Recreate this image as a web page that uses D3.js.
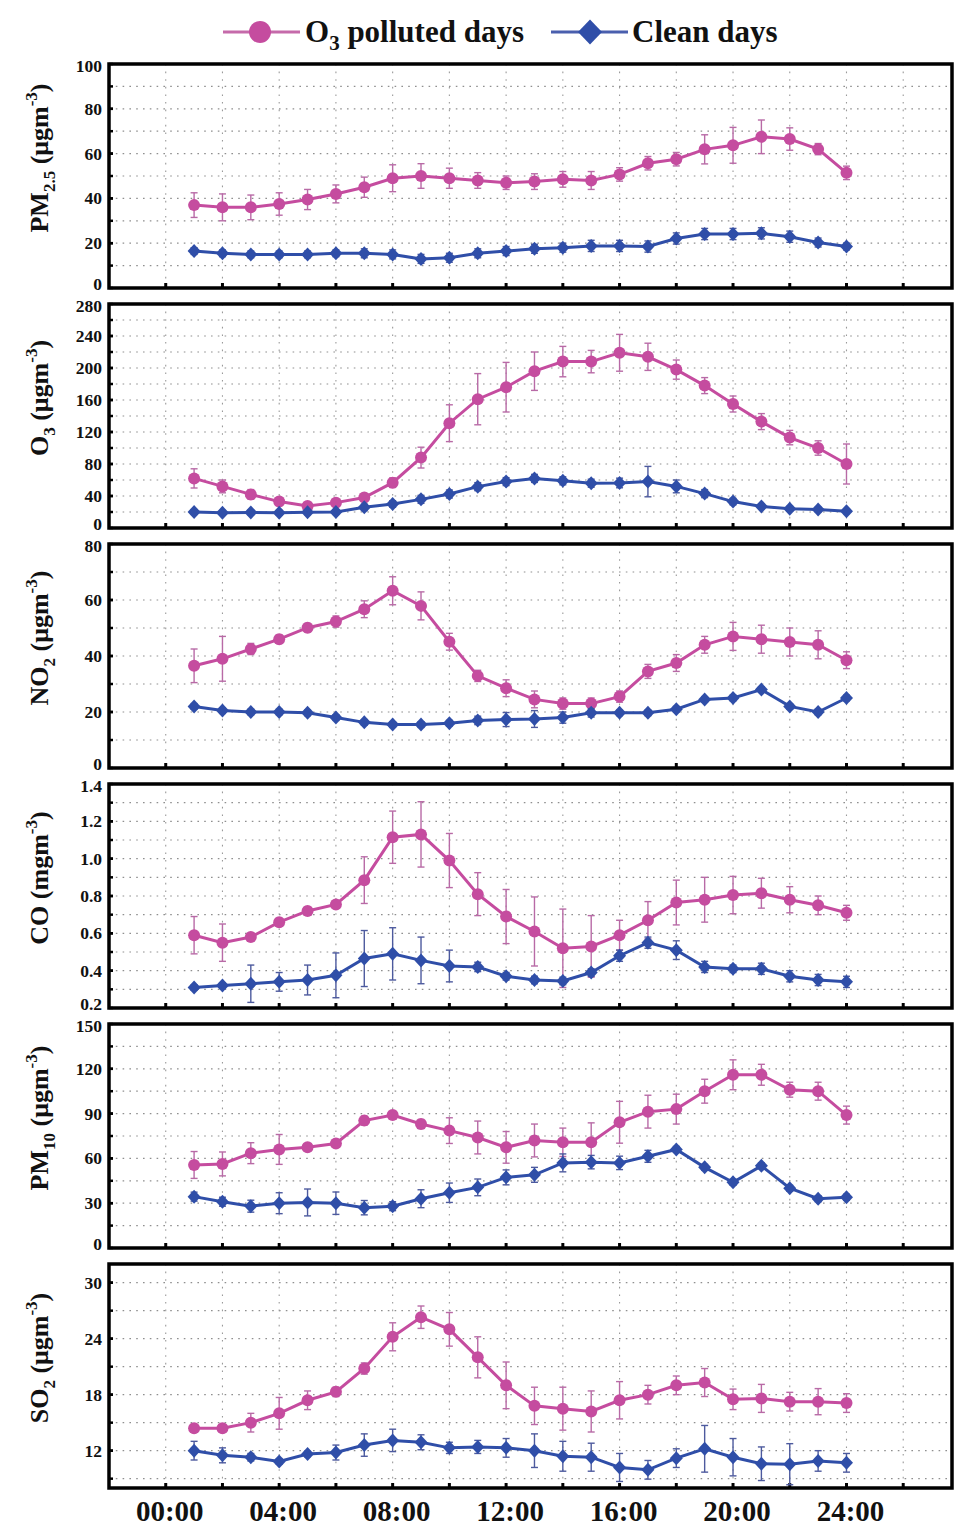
<!DOCTYPE html>
<html lang="en">
<head>
<meta charset="utf-8">
<title>Diurnal variations</title>
<script src="https://cdn.jsdelivr.net/npm/d3@7/dist/d3.min.js"></script>
<style>
  body { margin: 0; background: #fff; }
  svg { display: block; }
  text { font-family: "Liberation Serif", "Times New Roman", serif; font-weight: bold; fill: #111; }
</style>
</head>
<body>
<svg id="chart" width="954" height="1529"></svg>
<script>
// hours of day
var hours = [1,2,3,4,5,6,7,8,9,10,11,12,13,14,15,16,17,18,19,20,21,22,23,24];
var hourTicks = [0,4,8,12,16,20,24];
var hourTickLabels = ["00:00","04:00","08:00","12:00","16:00","20:00","24:00"];

// PM2.5 (ugm-3)
var pm25Polluted    = [37,36,36,37.5,39.5,42,45,49,50,49,48,47,47.5,48.5,48,50.7,55.7,57.5,61.9,63.7,67.5,66.5,62,51.4];
var pm25PollutedErr = [5.5,6,5.5,5,4.5,4,4.5,6,5.5,4.5,3.5,3,3.5,3.5,4,3,3,3,6.5,8,7.5,5,2.5,3];
var pm25Clean       = [16.5,15.5,15,15,15,15.5,15.5,15,13,13.5,15.5,16.5,17.5,18,18.8,18.8,18.5,22.1,24.1,24.1,24.4,22.9,20.3,18.5];
var pm25CleanErr    = [1.5,1.5,1.5,1.5,1.5,1.5,2,2,2,2,2,2,2,2,2.5,2.5,2.5,2.5,2.5,2.5,2.5,2.5,2,1.5];

// O3 (ugm-3)
var o3Polluted    = [62,52,42,33,27.5,31.7,38,56.7,88,131,161,176,196,208,208,219,214,198,178,155,133,113,100,80];
var o3PollutedErr = [12,8,6,5,4,4,5,6,13,23,32,31,24,19,14,23,17,12,10,10,10,9,9,25];
var o3Clean       = [20,19,19.5,19,19.6,20,25.8,30,35.8,42.5,51.7,58,62,59,56,56.3,58,52,43,33,27,24,23,21];
var o3CleanErr    = [3,3,3,3,3,3,4,4,5,5,5,5,5,5,5,6,19,8,5,4,3,3,3,3];

// NO2 (ugm-3)
var no2Polluted    = [36.5,39,42.5,46,50.1,52.3,56.7,63.3,57.9,45.1,32.9,28.5,24.5,23,23,25.5,34.5,37.5,44,47,46,45,44,38.5];
var no2PollutedErr = [6,8,2,1.5,1.5,2,3,5,5,3,2,3,3,2,2,2,2.5,3,3,5,5,5,5,3];
var no2Clean       = [22,20.5,20,20,19.7,18,16.3,15.5,15.5,16,17,17.3,17.5,18,19.7,19.7,19.7,21,24.5,25,28,22,20,25];
var no2CleanErr    = [1,1,1,1,1,1,1,1,1,1,1.5,2.5,3,2,1.5,1,1,1,1,1,1,1,1,1];

// CO (mgm-3)
var coPolluted    = [0.59,0.55,0.58,0.66,0.72,0.755,0.885,1.115,1.13,0.99,0.81,0.69,0.61,0.52,0.53,0.59,0.67,0.765,0.78,0.805,0.815,0.78,0.75,0.71];
var coPollutedErr = [0.1,0.1,0.02,0.02,0.02,0.02,0.125,0.14,0.175,0.145,0.115,0.145,0.185,0.21,0.165,0.08,0.1,0.12,0.12,0.1,0.08,0.07,0.05,0.04];
var coClean       = [0.31,0.32,0.33,0.34,0.35,0.375,0.465,0.49,0.455,0.425,0.42,0.37,0.35,0.345,0.39,0.48,0.55,0.51,0.42,0.41,0.41,0.37,0.35,0.34];
var coCleanErr    = [0.015,0.015,0.1,0.05,0.08,0.12,0.15,0.14,0.125,0.085,0.025,0.02,0.02,0.02,0.02,0.03,0.03,0.05,0.03,0.02,0.03,0.03,0.03,0.03];

// PM10 (ugm-3)
var pm10Polluted    = [55.6,56.3,63.5,66,67.5,70,85.3,89,83,78.6,74,67.4,72,70.8,70.8,84.2,91.3,93,105,116,116,106,105,89];
var pm10PollutedErr = [9,8,7,10,2,2,3,2,3,8.6,11,10.6,11,9.5,13,14,11,10,8,10,7,5,6,6];
var pm10Clean       = [34.4,31,28,30,30.5,30,27,28,33,37,40.6,47.3,49,57,57.5,57,61.4,66,54,44,55,40,33,34];
var pm10CleanErr    = [3,3,4,7,9,7.5,4.8,3,6,6.5,5.6,5,5,6,4.5,4.5,4,2,2,2,2,2,2,2];

// SO2 (ugm-3)
var so2Polluted    = [14.4,14.4,15,16,17.4,18.3,20.8,24.2,26.3,25,22,19,16.8,16.5,16.2,17.4,18,19,19.3,17.5,17.6,17.25,17.25,17.1];
var so2PollutedErr = [0.3,0.3,1,1.7,1,0.5,0.6,1.5,1.2,1.8,2.2,2.5,2,2.3,2.2,2,1,1,1.5,1.1,1.5,1,1.4,1];
var so2Clean       = [12,11.5,11.3,10.85,11.65,11.8,12.6,13.1,12.9,12.3,12.4,12.3,12,11.4,11.3,10.2,9.95,11.2,12.2,11.3,10.6,10.55,10.9,10.7];
var so2CleanErr    = [1,0.8,0.4,0.3,0.3,0.8,1.2,1.2,0.8,0.6,0.7,1,1.8,1.6,1.5,1.5,1,1,2.5,2,1.8,2.2,1.1,1];

var seriesNames = ["polluted days", "Clean days"];

var pink = "#c54c9f", pinkErr = "#b86aa6";
var blue = "#2f4ea8", blueErr = "#4d5a9e";

// panel setup (axis settings)
var panels = [
  {name: "PM", sub: "2.5", unit: "μgm", domain: [0, 100], major: 20, minor: 10, fmt: d3.format("d"),
   p: pm25Polluted, pe: pm25PollutedErr, c: pm25Clean, ce: pm25CleanErr},
  {name: "O", sub: "3", unit: "μgm", domain: [0, 280], major: 40, minor: 20, fmt: d3.format("d"),
   p: o3Polluted, pe: o3PollutedErr, c: o3Clean, ce: o3CleanErr},
  {name: "NO", sub: "2", unit: "μgm", domain: [0, 80], major: 20, minor: 10, fmt: d3.format("d"),
   p: no2Polluted, pe: no2PollutedErr, c: no2Clean, ce: no2CleanErr},
  {name: "CO", sub: "", unit: "mgm", domain: [0.2, 1.4], major: 0.2, minor: 0.1, fmt: d3.format(".1f"),
   p: coPolluted, pe: coPollutedErr, c: coClean, ce: coCleanErr},
  {name: "PM", sub: "10", unit: "μgm", domain: [0, 150], major: 30, minor: 15, fmt: d3.format("d"),
   p: pm10Polluted, pe: pm10PollutedErr, c: pm10Clean, ce: pm10CleanErr},
  {name: "SO", sub: "2", unit: "μgm", domain: [8, 32], major: 6, minor: 3, majorStart: 12, fmt: d3.format("d"),
   p: so2Polluted, pe: so2PollutedErr, c: so2Clean, ce: so2CleanErr}
];

var svg = d3.select("#chart");
var left = 109, right = 952;
var panelTop0 = 64, panelStep = 240, panelH = 224;

var x = d3.scaleLinear().domain([-2, 27.72]).range([left, right]);
var gridHours = d3.range(0, 27, 2);

function diamond(s) {
  return "M0," + (-s - 0.5) + "L" + s + ",0L0," + (s + 0.5) + "L" + (-s) + ",0Z";
}

panels.forEach(function(pn, i) {
  var top = panelTop0 + i * panelStep;
  var bottom = top + panelH;
  var y = d3.scaleLinear().domain(pn.domain).range([bottom, top]);
  var g = svg.append("g");
  var eps = pn.minor / 1000;

  var minorVals = d3.range(pn.domain[0] + pn.minor, pn.domain[1] - eps, pn.minor);
  if (pn.majorStart !== undefined) minorVals = d3.range(9, pn.domain[1] - eps, pn.minor);
  var majorVals = d3.range(pn.majorStart !== undefined ? pn.majorStart : pn.domain[0], pn.domain[1] + eps, pn.major);

  // grid
  g.selectAll(".hg").data(minorVals).enter().append("line")
    .attr("x1", left).attr("x2", right)
    .attr("y1", function(d) { return y(d); }).attr("y2", function(d) { return y(d); })
    .attr("stroke", "#8f8f8f").attr("stroke-width", 1.2).attr("stroke-dasharray", "1.6,5.2");
  g.selectAll(".vg").data(gridHours).enter().append("line")
    .attr("x1", function(d) { return x(d); }).attr("x2", function(d) { return x(d); })
    .attr("y1", top).attr("y2", bottom)
    .attr("stroke", "#9a9a9a").attr("stroke-width", 1.1).attr("stroke-dasharray", "1.6,6");

  // left ticks (inward)
  g.selectAll(".lt").data(minorVals.concat(majorVals)).enter().append("line")
    .attr("x1", left).attr("x2", left + 4)
    .attr("y1", function(d) { return y(d); }).attr("y2", function(d) { return y(d); })
    .attr("stroke", "#000").attr("stroke-width", 2.5);
  // bottom ticks (inward)
  g.selectAll(".bt").data(gridHours).enter().append("line")
    .attr("x1", function(d) { return x(d); }).attr("x2", function(d) { return x(d); })
    .attr("y1", bottom).attr("y2", bottom - 5)
    .attr("stroke", "#000").attr("stroke-width", 3);

  // y tick labels (end labels nudged so neighbouring panels don't collide)
  g.selectAll(".yl").data(majorVals).enter().append("text")
    .attr("x", left - 7)
    .attr("y", function(d) {
      var off = 6;
      if (Math.abs(d - pn.domain[0]) < eps) off = 2;
      if (Math.abs(d - pn.domain[1]) < eps) off = 8;
      return y(d) + off;
    })
    .attr("text-anchor", "end").style("font-size", "17.5px")
    .text(function(d) { return pn.fmt(d); });

  // y axis title
  var cy = (top + bottom) / 2 - 18;
  var title = g.append("text")
    .attr("transform", "translate(48," + cy + ") rotate(-90)")
    .attr("text-anchor", "middle").style("font-size", "26px");
  title.append("tspan").text(pn.name);
  if (pn.sub) title.append("tspan").attr("dy", 7).style("font-size", "17px").text(pn.sub);
  title.append("tspan").attr("dy", pn.sub ? -7 : 0).text(" (" + pn.unit);
  title.append("tspan").attr("dy", -11).style("font-size", "17px").text("-3");
  title.append("tspan").attr("dy", 11).text(")");

  // series
  var series = [
    {vals: pn.p, err: pn.pe, color: pink, ecolor: pinkErr, shape: "circle"},
    {vals: pn.c, err: pn.ce, color: blue, ecolor: blueErr, shape: "diamond"}
  ];
  series.forEach(function(s) {
    var pts = hours.map(function(h, k) { return {h: h, v: s.vals[k], e: s.err[k]}; });
    var eg = g.append("g").attr("stroke", s.ecolor).attr("stroke-width", 1.4);
    eg.selectAll(".eb").data(pts).enter().append("line")
      .attr("x1", function(d) { return x(d.h); }).attr("x2", function(d) { return x(d.h); })
      .attr("y1", function(d) { return y(d.v - d.e); }).attr("y2", function(d) { return y(d.v + d.e); });
    eg.selectAll(".ct").data(pts).enter().append("line")
      .attr("x1", function(d) { return x(d.h) - 3.5; }).attr("x2", function(d) { return x(d.h) + 3.5; })
      .attr("y1", function(d) { return y(d.v + d.e); }).attr("y2", function(d) { return y(d.v + d.e); });
    eg.selectAll(".cb").data(pts).enter().append("line")
      .attr("x1", function(d) { return x(d.h) - 3.5; }).attr("x2", function(d) { return x(d.h) + 3.5; })
      .attr("y1", function(d) { return y(d.v - d.e); }).attr("y2", function(d) { return y(d.v - d.e); });

    var line = d3.line().x(function(d) { return x(d.h); }).y(function(d) { return y(d.v); });
    g.append("path").datum(pts).attr("d", line)
      .attr("fill", "none").attr("stroke", s.color).attr("stroke-width", 3);

    if (s.shape === "circle") {
      g.selectAll(".mc").data(pts).enter().append("circle")
        .attr("cx", function(d) { return x(d.h); }).attr("cy", function(d) { return y(d.v); })
        .attr("r", 6).attr("fill", s.color);
    } else {
      g.selectAll(".md").data(pts).enter().append("path")
        .attr("transform", function(d) { return "translate(" + x(d.h) + "," + y(d.v) + ")"; })
        .attr("d", diamond(6.5)).attr("fill", s.color);
    }
  });

  // frame
  g.append("rect").attr("x", left).attr("y", top).attr("width", right - left).attr("height", panelH)
    .attr("fill", "none").attr("stroke", "#000").attr("stroke-width", 3.5);

  // x tick labels under last panel
  if (i === panels.length - 1) {
    g.selectAll(".xl").data(hourTicks).enter().append("text")
      .attr("x", function(d) { return x(d) + 4; }).attr("y", bottom + 33)
      .attr("text-anchor", "middle").style("font-size", "29px")
      .text(function(d, k) { return hourTickLabels[k]; });
  }
});

// legend
var lg = svg.append("g");
lg.append("line").attr("x1", 223).attr("x2", 300).attr("y1", 32).attr("y2", 32)
  .attr("stroke", "#c56aaa").attr("stroke-width", 3);
lg.append("circle").attr("cx", 260).attr("cy", 32).attr("r", 11).attr("fill", pink);
var t1 = lg.append("text").attr("x", 305).attr("y", 42).style("font-size", "31px");
t1.append("tspan").text("O");
t1.append("tspan").attr("dy", 8).style("font-size", "21px").text("3");
t1.append("tspan").attr("dy", -8).text(" " + seriesNames[0]);

lg.append("line").attr("x1", 551).attr("x2", 628).attr("y1", 32).attr("y2", 32)
  .attr("stroke", "#4a5fae").attr("stroke-width", 3);
lg.append("path").attr("transform", "translate(590,32)").attr("d", diamond(12)).attr("fill", blue);
lg.append("text").attr("x", 632).attr("y", 42).style("font-size", "31px").text(seriesNames[1]);
</script>
</body>
</html>
